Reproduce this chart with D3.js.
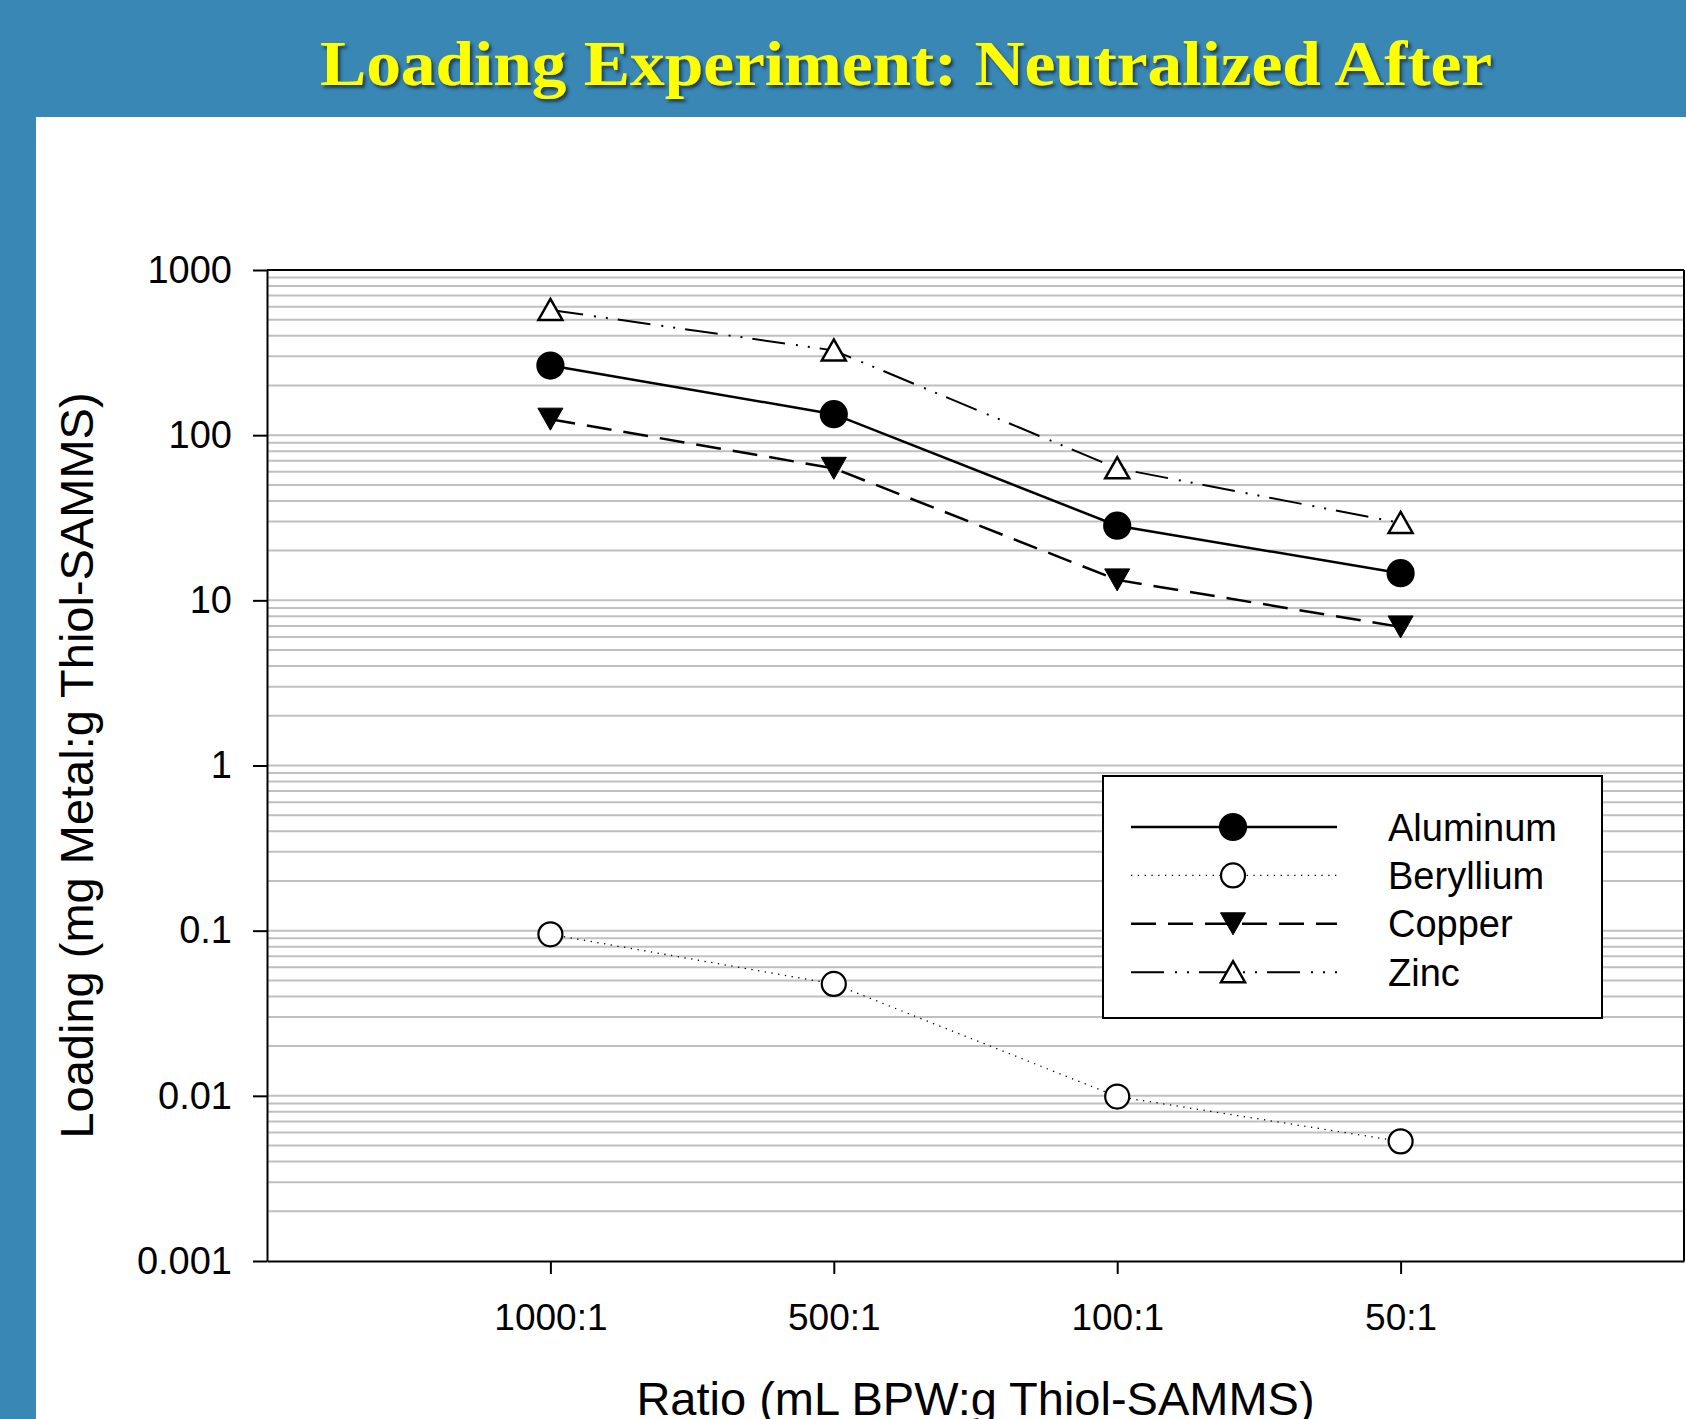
<!DOCTYPE html>
<meta charset="utf-8">
<style>
  html, body { margin: 0; padding: 0; overflow: hidden; background: #fff; }
  text { font-family: "Liberation Sans", Arial, sans-serif; fill: #000; }
  .axis path, .axis line { stroke: #000; stroke-width: 2px; fill: none; }
  .axis text { font-size: 37px; font-family: "Liberation Sans", Arial, sans-serif; fill: #000; }
  .axis.y text { font-size: 38px; }
  .grid line { stroke: #c0c0c0; stroke-width: 2px; }
  .title { font-family: "Liberation Serif", "DejaVu Serif", serif; font-weight: bold; fill: #ffff00; }
</style>
<body>
<svg></svg>
<script src="https://d3js.org/d3.v7.min.js"></script>
<script>

  // ratios on the x axis
  var categories = ["1000:1", "500:1", "100:1", "50:1"];

  // loading, mg metal per g thiol-SAMMS
  var aluminum  = [264, 134, 28.3, 14.6];
  var beryllium = [0.095, 0.0476, 0.0099, 0.0053];
  var copper    = [125, 63, 13.3, 6.9];
  var zinc      = [573, 326, 63, 29.4];

  var yTicks = [0.001, 0.01, 0.1, 1, 10, 100, 1000];
  var yTickLabels = ["0.001", "0.01", "0.1", "1", "10", "100", "1000"];

  var series = [
    {name: "Aluminum",  values: aluminum,  dash: null,                 lw: 2.5, symbol: "circle",   fill: "#000"},
    {name: "Beryllium", values: beryllium, dash: "1.3,5.5",            lw: 1.3, symbol: "circle",   fill: "#fff"},
    {name: "Copper",    values: copper,    dash: "25,12",              lw: 2.5, symbol: "triDown",  fill: "#000"},
    {name: "Zinc",      values: zinc,      dash: "33,11,2,10,2,10",    lw: 2,   symbol: "triUp",    fill: "#fff"}
  ];

  var W = 1686, H = 1419;
  var plot = {left: 267, right: 1684, top: 270, bottom: 1261};

  var svg = d3.select("svg").attr("width", W).attr("height", H);

  // slide background
  svg.append("rect").attr("width", W).attr("height", H).attr("fill", "#3887b4");
  svg.append("rect").attr("x", 36).attr("y", 117).attr("width", W - 36).attr("height", H - 117).attr("fill", "#fff");

  var defs = svg.append("defs");
  var f = defs.append("filter").attr("id", "shadow").attr("x", "-5%").attr("y", "-20%").attr("width", "110%").attr("height", "150%");
  f.append("feDropShadow").attr("dx", 2.5).attr("dy", 3).attr("stdDeviation", 1.5)
    .attr("flood-color", "#1a2a3a").attr("flood-opacity", 0.8);

  svg.append("text")
    .attr("class", "title")
    .attr("x", 320)
    .attr("y", 85)
    .attr("textLength", 1172)
    .attr("lengthAdjust", "spacingAndGlyphs")
    .style("font-size", "64px")
    .attr("filter", "url(#shadow)")
    .text("Loading Experiment: Neutralized After");

  var x = d3.scaleLinear().domain([0, categories.length + 1]).range([plot.left, plot.right]);
  var y = d3.scaleLog().domain([0.001, 1000]).range([plot.bottom, plot.top]);

  // minor grid lines 1..9 x 10^k
  var gridVals = [];
  for (var k = -3; k <= 2; k++) {
    for (var m = 1; m <= 9; m++) {
      var v = m * Math.pow(10, k);
      if (k === -3 && m === 1) continue;
      gridVals.push(v);
    }
  }
  svg.append("g").attr("class", "grid")
    .selectAll("line").data(gridVals).enter().append("line")
      .attr("x1", plot.left).attr("x2", plot.right)
      .attr("y1", function(d) { return y(d); })
      .attr("y2", function(d) { return y(d); });

  // frame: top and right
  svg.append("line").attr("x1", plot.left).attr("x2", plot.right).attr("y1", plot.top).attr("y2", plot.top)
    .attr("stroke", "#000").attr("stroke-width", 2);
  svg.append("line").attr("x1", plot.right).attr("x2", plot.right).attr("y1", plot.top).attr("y2", plot.bottom)
    .attr("stroke", "#000").attr("stroke-width", 2);

  svg.append("g")
    .attr("class", "axis y")
    .attr("transform", "translate(" + plot.left + ",0)")
    .call(d3.axisLeft(y).tickValues(yTicks)
      .tickFormat(function(d, i) { return yTickLabels[i]; })
      .tickSize(14).tickSizeOuter(0).tickPadding(21));

  svg.append("g")
    .attr("class", "axis x")
    .attr("transform", "translate(0," + plot.bottom + ")")
    .call(d3.axisBottom(x).tickValues(d3.range(1, categories.length + 1))
      .tickFormat(function(d) { return categories[d - 1]; })
      .tickSize(13).tickSizeOuter(0).tickPadding(30));

  // axis titles
  svg.append("text")
    .attr("transform", "translate(93," + ((plot.top + plot.bottom) / 2) + ") rotate(-90)")
    .attr("text-anchor", "middle")
    .style("font-size", "47px")
    .text("Loading (mg Metal:g Thiol-SAMMS)");

  svg.append("text")
    .attr("x", (plot.left + plot.right) / 2)
    .attr("y", 1415)
    .attr("text-anchor", "middle")
    .style("font-size", "47px")
    .text("Ratio (mL BPW:g Thiol-SAMMS)");

  function drawSymbol(g, s, cx, cy) {
    if (s.symbol === "circle") {
      g.append("circle").attr("cx", cx).attr("cy", cy).attr("r", s.fill === "#000" ? 13 : 12)
        .attr("fill", s.fill).attr("stroke", "#000").attr("stroke-width", 2.2);
    } else if (s.symbol === "triDown") {
      g.append("path")
        .attr("d", "M" + (cx - 12.5) + "," + (cy - 11) + "L" + (cx + 12.5) + "," + (cy - 11) + "L" + cx + "," + (cy + 11) + "Z")
        .attr("fill", s.fill).attr("stroke", "#000").attr("stroke-width", 1);
    } else {
      g.append("path")
        .attr("d", "M" + cx + "," + (cy - 11) + "L" + (cx + 12) + "," + (cy + 10) + "L" + (cx - 12) + "," + (cy + 10) + "Z")
        .attr("fill", s.fill).attr("stroke", "#000").attr("stroke-width", 2.5).attr("stroke-linejoin", "miter");
    }
  }

  var line = d3.line()
    .x(function(d, i) { return x(i + 1); })
    .y(function(d) { return y(d); });

  series.forEach(function(s) {
    svg.append("path")
      .datum(s.values)
      .attr("d", line)
      .attr("fill", "none")
      .attr("stroke", "#000")
      .attr("stroke-width", s.lw)
      .attr("stroke-dasharray", s.dash);
  });

  var marks = svg.append("g");
  series.forEach(function(s) {
    s.values.forEach(function(v, i) { drawSymbol(marks, s, x(i + 1), y(v)); });
  });

  // legend
  var lg = {x: 1103, y: 776, w: 499, h: 242};
  var legend = svg.append("g");
  legend.append("rect").attr("x", lg.x).attr("y", lg.y).attr("width", lg.w).attr("height", lg.h)
    .attr("fill", "#fff").attr("stroke", "#000").attr("stroke-width", 2);
  series.forEach(function(s, i) {
    var ry = 827 + i * 48.4;
    legend.append("line").attr("x1", 1131).attr("x2", 1337).attr("y1", ry).attr("y2", ry)
      .attr("stroke", "#000").attr("stroke-width", s.lw).attr("stroke-dasharray", s.dash);
    drawSymbol(legend, s, 1233, ry);
    legend.append("text").attr("x", 1388).attr("y", ry).attr("dy", "0.36em")
      .style("font-size", "38px").text(s.name);
  });
</script>
</body>
</html>
